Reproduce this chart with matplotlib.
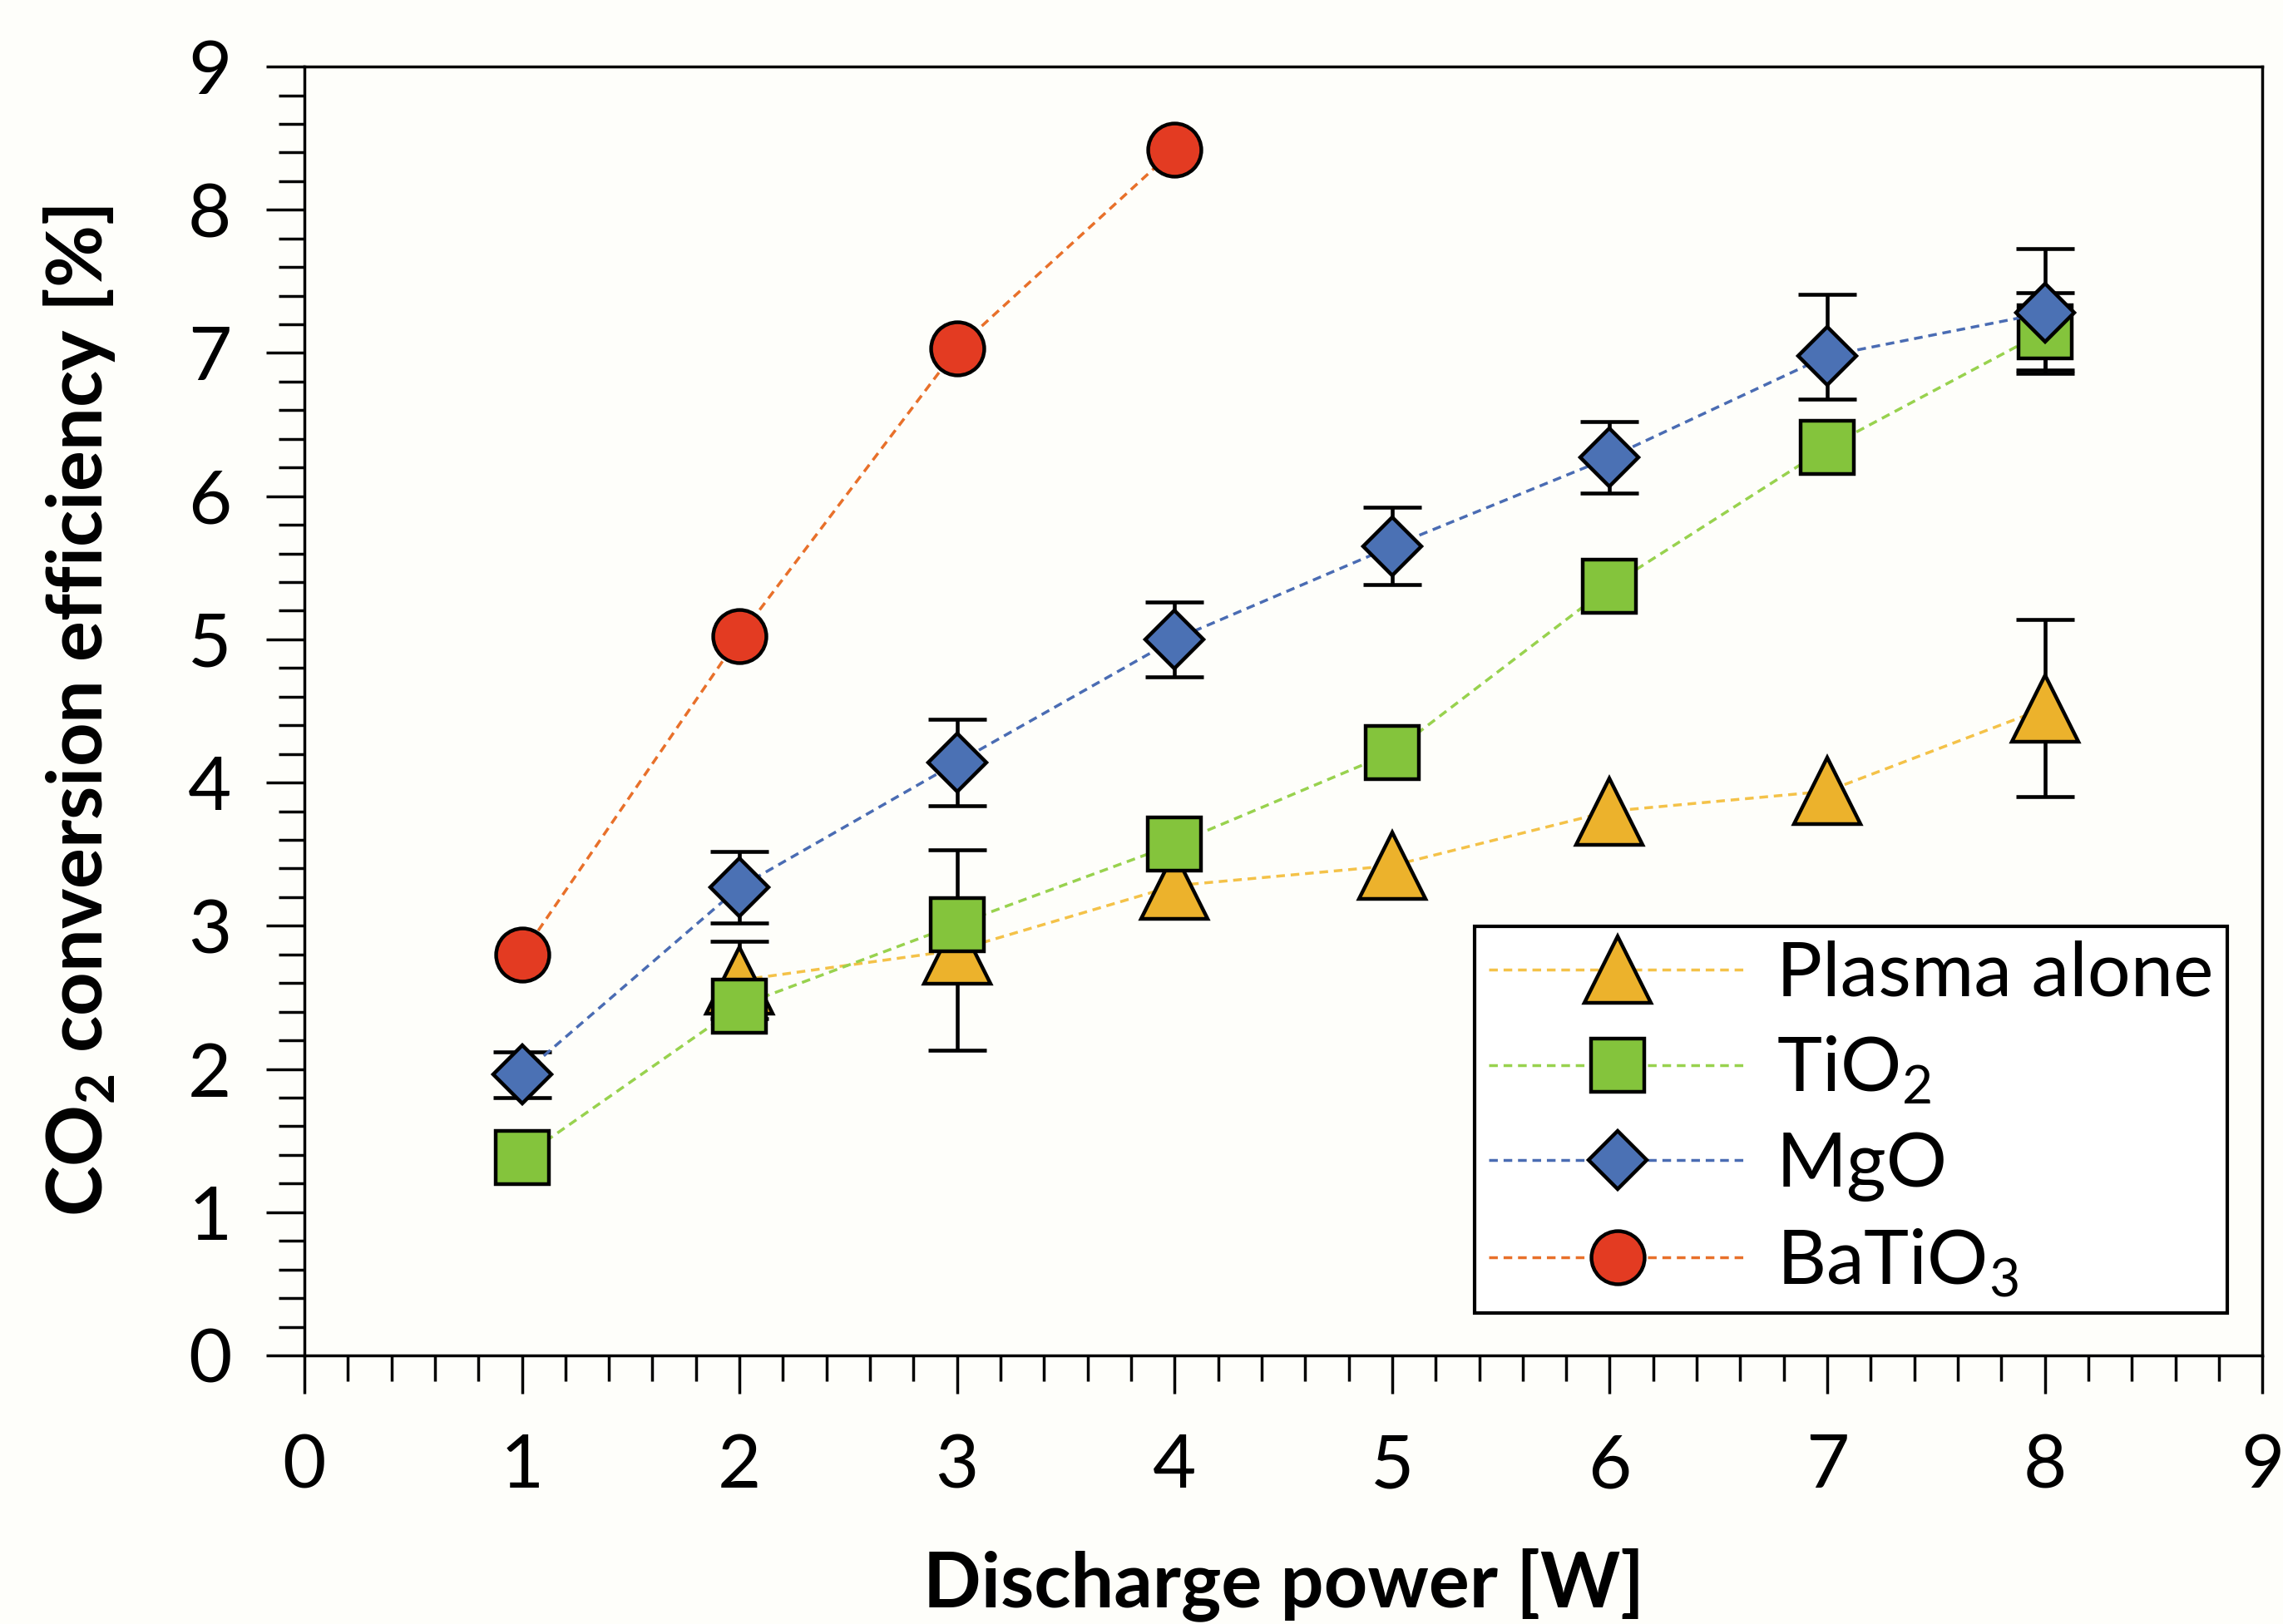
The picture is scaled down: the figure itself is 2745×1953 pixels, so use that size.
import matplotlib
matplotlib.use('Agg')
from matplotlib import pyplot as plt
from matplotlib.ticker import MultipleLocator

# discharge power [W]
power = [1, 2, 3, 4, 5, 6, 7, 8]

# CO2 conversion efficiency [%]
plasma_x = [2, 3, 4, 5, 6, 7, 8]
plasma = [2.62, 2.83, 3.28, 3.42, 3.80, 3.94, 4.52]
plasma_err = [0.27, 0.70, 0.0, 0.0, 0.0, 0.0, 0.62]

tio2 = [1.38, 2.44, 3.01, 3.57, 4.21, 5.37, 6.34, 7.15]
tio2_err = [0.0, 0.0, 0.0, 0.0, 0.0, 0.0, 0.0, 0.27]

mgo = [1.96, 3.27, 4.14, 5.00, 5.65, 6.27, 6.98, 7.28]
mgo_err_low = [0.16, 0.25, 0.30, 0.26, 0.27, 0.25, 0.30, 0.42]
mgo_err_high = [0.16, 0.25, 0.30, 0.26, 0.27, 0.25, 0.43, 0.45]

batio3_x = [1, 2, 3, 4]
batio3 = [2.80, 5.02, 7.03, 8.42]

labels = ['Plasma alone', 'TiO$_2$', 'MgO', 'BaTiO$_3$']

plt.rcParams['font.family'] = 'Lato'
plt.rcParams['mathtext.fontset'] = 'custom'
plt.rcParams['mathtext.rm'] = 'Lato'
plt.rcParams['mathtext.bf'] = 'Lato:bold'

BG = '#fefefa'

def nonzero(x, y, e):
    ''' keep only the points that carry an error bar '''
    keep = [i for i in range(len(e)) if e[i] > 0]
    return [x[i] for i in keep], [y[i] for i in keep], [e[i] for i in keep]

def make_plot():
    fig = plt.figure(figsize=(27.45, 19.53), dpi=100, facecolor=BG)
    ax = fig.add_axes([0.1333, 0.1654, 0.8577, 0.7936])
    ax.set_facecolor(BG)

    # error bars sit behind every marker
    eb = dict(fmt='none', ecolor='black', elinewidth=3.3, capsize=25, capthick=3.3, zorder=1)
    for x, y, e in [(plasma_x, plasma, plasma_err), (power, tio2, tio2_err)]:
        xs, ys, es = nonzero(x, y, e)
        ax.errorbar(xs, ys, yerr=es, **eb)
    ax.errorbar(power, mgo, yerr=[mgo_err_low, mgo_err_high], **eb)

    line = dict(linestyle=(0, (3, 2)), linewidth=2.5, markeredgecolor='black',
                markeredgewidth=3.2)
    ax.plot(plasma_x, plasma, marker='^', markersize=57, color='#f4c248',
            markerfacecolor='#ecb22c', label=labels[0], zorder=3, **line)
    ax.plot(power, tio2, marker='s', markersize=46, color='#98d24e',
            markerfacecolor='#84c43c', label=labels[1], zorder=4, **line)
    ax.plot(power, mgo, marker='D', markersize=36, color='#4a6cb3',
            markerfacecolor='#4b71b4', label=labels[2], zorder=5, **line)
    ax.plot(batio3_x, batio3, marker='o', markersize=46, color='#e8702a',
            markerfacecolor='#e33b22', label=labels[3], zorder=6, **line)

    ax.set_xlim(0, 9)
    ax.set_ylim(0, 9)
    ax.xaxis.set_major_locator(MultipleLocator(1))
    ax.xaxis.set_minor_locator(MultipleLocator(0.2))
    ax.yaxis.set_major_locator(MultipleLocator(1))
    ax.yaxis.set_minor_locator(MultipleLocator(0.2))
    ax.tick_params(which='major', direction='out', length=33, width=2.5,
                   labelsize=65, top=False, right=False)
    ax.tick_params(which='minor', direction='out', length=22, width=2.5,
                   top=False, right=False)
    ax.tick_params(axis='x', which='major', pad=34)
    ax.tick_params(axis='y', which='major', pad=30)
    for s in ax.spines.values():
        s.set_linewidth(2.5)

    ax.set_xlabel('Discharge power [W]', fontsize=66, fontweight='bold', va='baseline')
    ax.xaxis.set_label_coords(0.5, -0.195)
    ax.set_ylabel(r'CO$_\mathbf{2}$ conversion efficiency [%]', fontsize=66,
                  fontweight='bold', va='center')
    ax.yaxis.set_label_coords(-0.115, 0.5)

    leg = ax.legend(loc='lower right', bbox_to_anchor=(0.982, 0.033), borderaxespad=0,
                    fontsize=66, fancybox=False, edgecolor='black', framealpha=1,
                    handlelength=3.4, handletextpad=0.38, labelspacing=0.33,
                    borderpad=0.18)
    leg.get_frame().set_linewidth(3)
    return fig

if __name__ == '__main__':
    fig = make_plot()
    fig.savefig('out.png', dpi=100, facecolor=fig.get_facecolor())
